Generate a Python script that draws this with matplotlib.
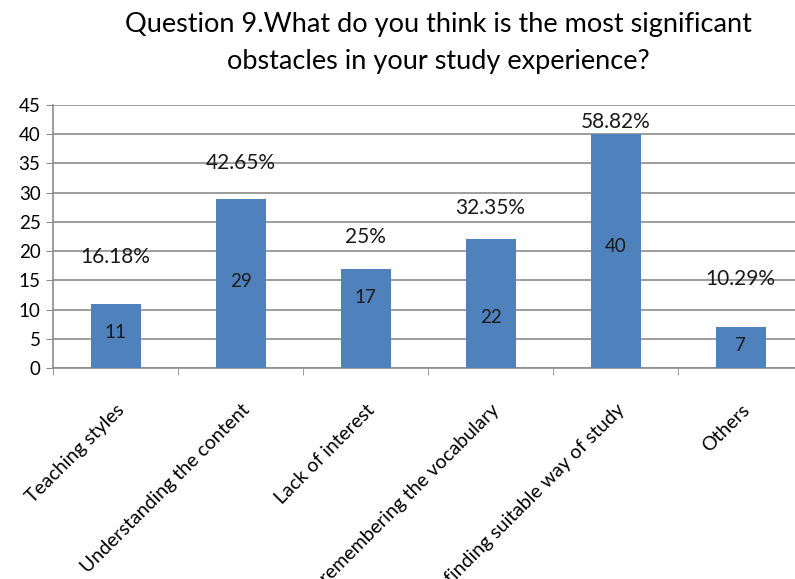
import matplotlib
matplotlib.use('Agg')
import matplotlib.pyplot as plt
import numpy as np

categories = ['Teaching styles', 'Understanding the content', 'Lack of interest',
              'remembering the vocabulary', 'finding suitable way of study', 'Others']
counts = [11, 29, 17, 22, 40, 7]
percents = ['16.18%', '42.65%', '25%', '32.35%', '58.82%', '10.29%']

# where the labels sit (layout, not data)
pct_lift = [8.0, 6.1, 5.4, 5.4, 2.1, 8.2]
inner_frac = [0.55, 0.51, 0.71, 0.39, 0.52, 0.54]

plt.rcParams['font.family'] = ['Lato', 'DejaVu Sans']

fig = plt.figure(figsize=(7.95, 5.79), dpi=100)
ax = fig.add_axes([53 / 795, (579 - 368) / 579, 750 / 795, 263 / 579])

x = np.arange(len(categories))
ax.bar(x, counts, width=0.4, color='#4F81BD', zorder=3)

for xi, c, p, lift, fr in zip(x, counts, percents, pct_lift, inner_frac):
    ax.text(xi, c * fr, str(c), ha='center', va='center', fontsize=13.5, color='#1a1a1a', zorder=4)
    ax.text(xi, c + lift, p, ha='center', va='center', fontsize=15, color='#1a1a1a', zorder=4)

ax.set_xlim(-0.5, len(categories) - 0.5)
ax.set_ylim(0, 45)
ax.set_yticks(range(0, 46, 5))
ax.yaxis.grid(True, color='#8c8c8c', lw=1.2, zorder=0)
ax.set_axisbelow(True)

ax.set_xticks(x)
ax.set_xticklabels(categories, rotation=45, ha='right', rotation_mode='anchor', fontsize=14)
ax.tick_params(axis='x', length=0, pad=24)
ax.set_xticks(np.arange(len(categories)) - 0.5, minor=True)
ax.tick_params(axis='x', which='minor', length=5, direction='out', color='#8c8c8c')
ax.tick_params(axis='y', length=5, color='#8c8c8c', labelsize=13.5, pad=4)

for s in ['top', 'right']:
    ax.spines[s].set_visible(False)
for s in ['left', 'bottom']:
    ax.spines[s].set_color('#8c8c8c')
    ax.spines[s].set_linewidth(1.2)

fig.text(0.552, 0.958, 'Question 9.What do you think is the most significant',
         ha='center', va='center', fontsize=19.5)
fig.text(0.552, 0.893, 'obstacles in your study experience?',
         ha='center', va='center', fontsize=19.5)

fig.savefig('out.png', dpi=100)
